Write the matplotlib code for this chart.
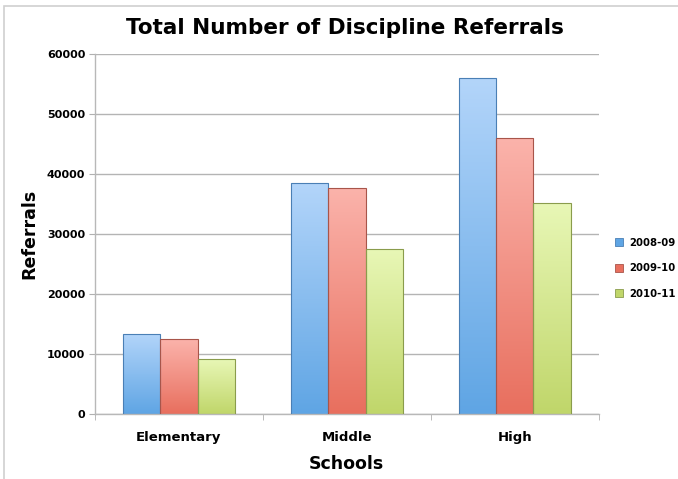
import numpy as np
import matplotlib.pyplot as plt
from matplotlib.colors import LinearSegmentedColormap
from matplotlib.patches import Rectangle
from matplotlib.lines import Line2D

### Data ###
schools = ['Elementary', 'Middle', 'High']
years = ['2008-09', '2009-10', '2010-11']
ref_2008 = [13400, 38500, 56000]
ref_2009 = [12450, 37600, 46000]
ref_2010 = [9100, 27450, 35100]

### Style ###
# (top colour, bottom colour, edge colour) per year
bar_styles = [
    ('#b3d5fa', '#5fa5e4', '#4a7fb5'),
    ('#fbb3ab', '#e86f5e', '#a8554a'),
    ('#e8f7b6', '#c0d66a', '#8a9c4c'),
]
BAR_W = 0.223

fig = plt.figure(figsize=(6.78, 4.79), dpi=100)
ax = fig.add_axes([0.140, 0.1357, 0.743, 0.7515])

x = np.arange(len(schools))
series = [ref_2008, ref_2009, ref_2010]

for i, (vals, (c_top, c_bot, c_edge)) in enumerate(zip(series, bar_styles)):
    cmap = LinearSegmentedColormap.from_list(f'grad{i}', [c_bot, c_top])
    bars = ax.bar(x + (i - 1) * BAR_W, vals, BAR_W, color='none',
                  edgecolor=c_edge, linewidth=0.8, zorder=3)
    for b in bars:
        x0, y0 = b.get_x(), b.get_y()
        w, h = b.get_width(), b.get_height()
        grad = np.linspace(0, 1, 256).reshape(-1, 1)
        im = ax.imshow(grad, cmap=cmap, origin='lower', aspect='auto',
                       extent=(x0, x0 + w, y0, y0 + h), zorder=2)
        im.set_clip_path(b)

ax.set_xlim(-0.5, 2.5)
ax.set_ylim(0, 60000)
ax.set_yticks(np.arange(0, 60001, 10000))
ax.set_xticks(x)
ax.set_xticklabels(schools, fontsize=9.5, fontweight='bold')
ax.set_xticks([-0.5, 0.5, 1.5, 2.5], minor=True)
ax.tick_params(axis='x', which='major', length=0, pad=12)
ax.tick_params(axis='x', which='minor', length=4, color='#b0b0b0')
ax.tick_params(axis='y', length=4, color='#b0b0b0', labelsize=8, pad=3)
for lbl in ax.get_yticklabels():
    lbl.set_fontweight('bold')

ax.yaxis.grid(True, color='#b4b4b4', linewidth=1.0, zorder=0)
ax.set_axisbelow(True)
for side in ['top', 'right']:
    ax.spines[side].set_visible(False)
for side in ['left', 'bottom']:
    ax.spines[side].set_color('#b8b8b8')
    ax.spines[side].set_linewidth(1.0)

ax.set_xlabel('Schools', fontsize=12.5, fontweight='bold', labelpad=8)
ax.set_ylabel('Referrals', fontsize=12.5, fontweight='bold', labelpad=6)
fig.text(0.509, 0.942, 'Total Number of Discipline Referrals', ha='center',
         va='center', fontsize=15.5, fontweight='bold')

handles = [Line2D([0], [0], marker='s', linestyle='none', markersize=5.5,
                  markerfacecolor=c_bot, markeredgecolor=c_edge, markeredgewidth=0.6)
           for (c_top, c_bot, c_edge) in bar_styles]
leg = fig.legend(handles, years, loc='center left', bbox_to_anchor=(0.893, 0.44),
                 frameon=False, prop={'size': 7.3, 'weight': 'bold'},
                 labelspacing=1.55, handletextpad=0.4, handlelength=1.2,
                 borderpad=0.2)

# light frame around the chart area
fig.patches.append(Rectangle((4 / 678, -0.1), 1.2, 1.1 - 6.5 / 479,
                             transform=fig.transFigure, fill=False,
                             edgecolor='#d0d0d0', linewidth=1.2))

fig.savefig('out.png', dpi=100)
